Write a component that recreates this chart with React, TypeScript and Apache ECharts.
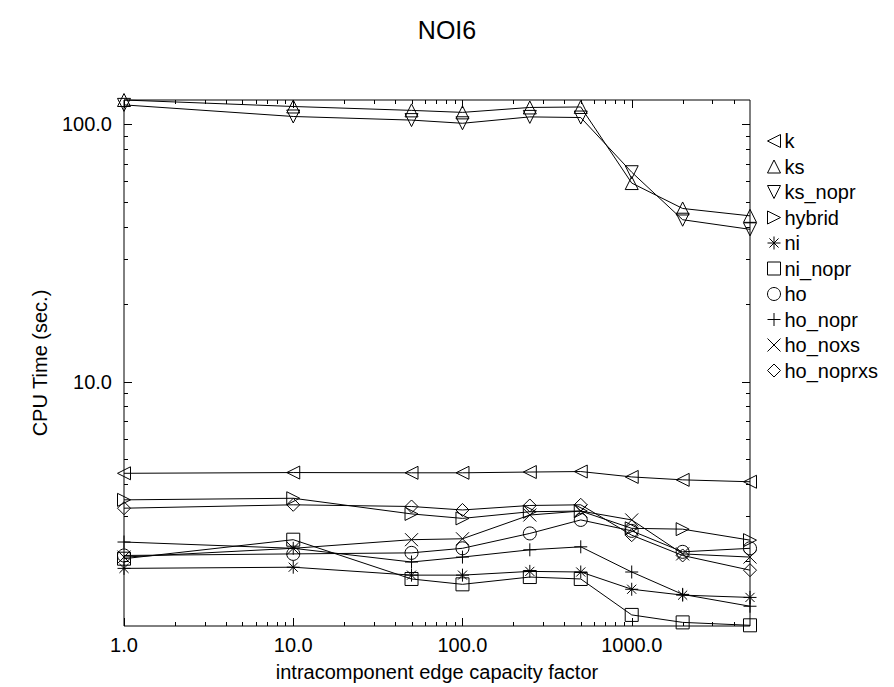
import React, { useEffect, useRef } from "react";
import * as echarts from "echarts";

const xValues = [1, 10, 50, 100, 250, 500, 1000, 2000, 5000];
const seriesNames = ["k", "ks", "ks_nopr", "hybrid", "ni", "ni_nopr", "ho", "ho_nopr", "ho_noxs", "ho_noprxs"];

const kData = [4.4, 4.43, 4.42, 4.42, 4.45, 4.47, 4.26, 4.15, 4.08];
const ksData = [124, 117, 113, 111, 116, 116.5, 59, 47, 44];
const ksNoprData = [118.7, 107, 103.6, 100.7, 106.6, 106, 65, 42.5, 39];
const hybridData = [3.47, 3.52, 3.06, 2.94, 3.12, 3.14, 2.69, 2.67, 2.42];
const niData = [1.88, 1.9, 1.77, 1.77, 1.83, 1.82, 1.56, 1.48, 1.45];
const niNoprData = [2.05, 2.43, 1.71, 1.63, 1.74, 1.71, 1.24, 1.16, 1.13];
const hoData = [2.11, 2.14, 2.16, 2.25, 2.57, 2.9, 2.63, 2.18, 2.25];
const hoNoprData = [2.38, 2.25, 1.99, 2.08, 2.22, 2.28, 1.82, 1.49, 1.34];
const hoNoxsData = [2.08, 2.25, 2.43, 2.45, 3.03, 3.14, 2.9, 2.14, 2.08];
const hoNoprxsData = [3.22, 3.32, 3.27, 3.17, 3.3, 3.32, 2.53, 2.11, 1.85];

const allData = [kData, ksData, ksNoprData, hybridData, niData, niNoprData, hoData, hoNoprData, hoNoxsData, hoNoprxsData];

const X_MIN = 1;
const X_MAX = 5000;
const Y_MIN = 1.123;
const Y_MAX = 124;

const xMajorTicks = [1, 10, 100, 1000];
const xMinorTicks = [2, 3, 4, 5, 6, 7, 8, 9, 20, 30, 40, 50, 60, 70, 80, 90, 200, 300, 400, 500, 600, 700, 800, 900, 2000, 3000, 4000];
const yMajorTicks = [10, 100];
const yMinorTicks = [2, 3, 4, 5, 6, 7, 8, 9, 20, 30, 40, 50, 60, 70, 80, 90];

const markerPaths: string[] = [
  "path://M10 0 L0 5 L10 10 Z", // left triangle
  "path://M0 10 L5 0 L10 10 Z", // up triangle
  "path://M0 0 L10 0 L5 10 Z", // down triangle
  "path://M0 0 L10 5 L0 10 Z", // right triangle
  "path://M5 0 L5 10 M0 5 L10 5 M1.5 1.5 L8.5 8.5 M8.5 1.5 L1.5 8.5", // asterisk
  "path://M0 0 L10 0 L10 10 L0 10 Z", // square
  "circle",
  "path://M5 0 L5 10 M0 5 L10 5", // plus
  "path://M0 0 L10 10 M10 0 L0 10", // cross
  "path://M5 0 L10 5 L5 10 L0 5 Z", // diamond
];

const FONT = "'Liberation Sans', Arial, Helvetica, sans-serif";

export default function App() {
  const ref = useRef<HTMLDivElement>(null);

  useEffect(() => {
    if (!ref.current) return;
    const chart = echarts.init(ref.current, null, { renderer: "svg" });

    const lineSeries = seriesNames.map((name, i) => ({
      name,
      type: "line",
      data: xValues.map((x, j) => [x, allData[i][j]]),
      symbol: markerPaths[i],
      symbolSize: 13,
      showAllSymbol: true,
      clip: false,
      lineStyle: { color: "#000", width: 1 },
      itemStyle: { color: "rgba(0,0,0,0)", borderColor: "#000", borderWidth: 1 },
      emphasis: { disabled: true },
      z: 3,
    }));

    const xTickData = [
      ...xMajorTicks.map((v) => [v, Y_MIN, 8]),
      ...xMinorTicks.map((v) => [v, Y_MIN, 4]),
    ];
    const yTickData = [
      ...yMajorTicks.map((v) => [X_MIN, v, 8]),
      ...yMinorTicks.map((v) => [X_MIN, v, 4]),
    ];

    const tickStyle = { stroke: "#000", lineWidth: 1 };

    const xTickSeries = {
      type: "custom",
      name: "xticks",
      silent: true,
      clip: false,
      data: xTickData,
      encode: { x: 0, y: 1 },
      renderItem: (params: any, api: any) => {
        const v = api.value(0);
        const len = api.value(2);
        const b = api.coord([v, Y_MIN]);
        const t = api.coord([v, Y_MAX]);
        const x = Math.round(b[0]) + 0.5;
        return {
          type: "group",
          children: [
            { type: "line", shape: { x1: x, y1: b[1], x2: x, y2: b[1] - len }, style: tickStyle },
            { type: "line", shape: { x1: x, y1: t[1], x2: x, y2: t[1] + len }, style: tickStyle },
          ],
        };
      },
    };

    const yTickSeries = {
      type: "custom",
      name: "yticks",
      silent: true,
      clip: false,
      data: yTickData,
      encode: { x: 0, y: 1 },
      renderItem: (params: any, api: any) => {
        const v = api.value(1);
        const len = api.value(2);
        const l = api.coord([X_MIN, v]);
        const r = api.coord([X_MAX, v]);
        const y = Math.round(l[1]) + 0.5;
        return {
          type: "group",
          children: [
            { type: "line", shape: { x1: l[0], y1: y, x2: l[0] + len, y2: y }, style: tickStyle },
            { type: "line", shape: { x1: r[0], y1: y, x2: r[0] - len, y2: y }, style: tickStyle },
          ],
        };
      },
    };

    chart.setOption({
      animation: false,
      backgroundColor: "#fff",
      title: {
        text: "NOI6",
        left: "center",
        top: 12,
        textStyle: { fontFamily: FONT, fontSize: 25, fontWeight: "normal", color: "#000" },
      },
      grid: {
        left: 124,
        top: 100,
        width: 626,
        height: 527,
        show: true,
        borderColor: "#000",
        borderWidth: 1,
        backgroundColor: "rgba(0,0,0,0)",
      },
      legend: {
        orient: "vertical",
        left: 762,
        top: 126,
        itemWidth: 13,
        itemHeight: 13,
        itemGap: 5.5,
        selectedMode: false,
        textStyle: { fontFamily: FONT, fontSize: 20, color: "#000", padding: [0, 0, 0, -1] },
        data: seriesNames.map((name, i) => ({
          name,
          icon: markerPaths[i],
          itemStyle: { color: "rgba(0,0,0,0)", borderColor: "#000", borderWidth: 1 },
        })),
      },
      xAxis: {
        type: "log",
        logBase: 10,
        min: X_MIN,
        max: X_MAX,
        name: "intracomponent edge capacity factor",
        nameLocation: "middle",
        nameGap: 36,
        nameTextStyle: { fontFamily: FONT, fontSize: 20, color: "#000" },
        axisLine: { show: false },
        axisTick: { show: false },
        splitLine: { show: false },
        axisLabel: {
          fontFamily: FONT,
          fontSize: 20,
          color: "#000",
          margin: 9,
          showMaxLabel: false,
          formatter: (v: number) => {
            const p = Math.round(Math.log10(v));
            if (Math.abs(Math.pow(10, p) - v) / v > 1e-6) return "";
            return v.toFixed(1);
          },
        },
      },
      yAxis: {
        type: "log",
        logBase: 10,
        min: Y_MIN,
        max: Y_MAX,
        name: "CPU Time (sec.)",
        nameLocation: "middle",
        nameGap: 74,
        nameTextStyle: { fontFamily: FONT, fontSize: 20, color: "#000" },
        axisLine: { show: false },
        axisTick: { show: false },
        splitLine: { show: false },
        axisLabel: {
          fontFamily: FONT,
          fontSize: 20,
          color: "#000",
          margin: 12,
          showMinLabel: false,
          showMaxLabel: false,
          formatter: (v: number) => {
            const p = Math.round(Math.log10(v));
            if (Math.abs(Math.pow(10, p) - v) / v > 1e-6) return "";
            return v.toFixed(1);
          },
        },
      },
      series: [...lineSeries, xTickSeries, yTickSeries],
    });

    return () => chart.dispose();
  }, []);

  return (
    <div
      ref={ref}
      style={{ position: "fixed", left: 0, top: 0, width: 894, height: 687, background: "#fff" }}
    />
  );
}
